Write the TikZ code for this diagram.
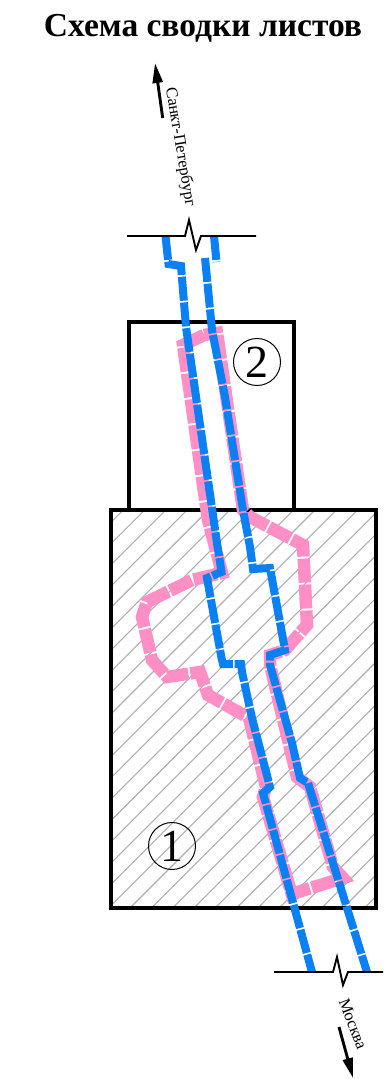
\documentclass[tikz,border=0pt]{standalone}
\usepackage{fontspec}
\setmainfont{Liberation Serif}
\usetikzlibrary{arrows.meta}
\definecolor{roadblue}{HTML}{0A80F5}
\definecolor{roadpink}{HTML}{FF8FC4}
\definecolor{hatchgray}{HTML}{AEAEAE}
\tikzset{
  sheet/.style={draw=black,line width=3.8pt},
  hatchline/.style={draw=hatchgray,line width=1.1pt},
  pinkroute/.style={draw=roadpink,line width=12.5pt,dash pattern=on 24pt off 2pt},
  blueroute/.style={draw=roadblue,line width=8pt,dash pattern=on 24pt off 1.8pt},
  breakline/.style={draw=black,line width=1.9pt},
  dirarrow/.style={draw=black,line width=2.9pt,-{Triangle[length=20pt,width=10pt]}},
  sheetnum/.style={circle,draw=black,line width=1pt,minimum size=47pt,inner sep=0pt,font=\fontsize{46}{46}\selectfont},
  citylabel/.style={font=\fontsize{16.5}{17}\selectfont,inner sep=0pt},
  titletext/.style={font=\bfseries\fontsize{33.5}{35}\selectfont,inner sep=0pt}
}
\begin{document}
\begin{tikzpicture}[x=1pt,y=-1pt]
\useasboundingbox (0,0) rectangle (383,1079);
% hatching of sheet 1
\begin{scope}
\clip (111,510) rectangle (376,908);
\foreach \k in {-22,...,32} {
  \draw[hatchline] (93.7+21.3*\k,923) -- ++(450,-450);
}
\end{scope}
\coordinate (s2a) at (129,510); \coordinate (s2b) at (294,322);
\coordinate (s1a) at (111,510); \coordinate (s1b) at (376,908);
\draw[sheet] (s2a) rectangle (s2b);
\draw[sheet] (s1a) rectangle (s1b);
% pink route
\draw[pinkroute] (204,335) -- (183,345) -- (208,520) -- (222,573) -- (192,580)
  -- (147,602) -- (142,617) -- (152,660) -- (167,677) -- (200,672) -- (208,695)
  -- (249,718) -- (266,787) -- (263,797) -- (292,895) -- (298,892) -- (343,878) -- (333,867)
  -- (310,787) -- (297,777) -- (270,665) -- (270,655) -- (285,650) -- (307,625)
  -- (303,545) -- (250,517) -- (243,510) -- (225,388) -- (217,333) -- cycle;
% blue routes
\draw[blueroute] (165.5,236) -- (168.5,264) -- (181,266) -- (186,327) -- (217,543)
  -- (221.5,572) -- (207,578) -- (221.5,658) -- (223,664) -- (241,664) -- (242,672)
  -- (252,718) -- (270,787) -- (263,793) -- (312,972);
\draw[blueroute] (214,236) -- (216.5,262);
\draw[blueroute] (205,258) -- (212,330) -- (225,397) -- (243,510) -- (250,547)
  -- (253,569) -- (270,568) -- (285,650) -- (270,655) -- (270,665) -- (292,743)
  -- (300,778) -- (308,783) -- (367,972);
% breaks
\draw[breakline] (127,236) -- (185,236) -- (189,220) -- (196,250) -- (201,236) -- (256,236);
\draw[breakline] (274,972) -- (333,972) -- (337,957) -- (343,985) -- (348,972) -- (383,972);
% sheet numbers
\node[sheetnum] (n2) at (257,362) {2};
\node[sheetnum] (n1) at (172,846) {1};
% directions
\coordinate (a1s) at (162.7,118); \coordinate (a1e) at (155,63);
\coordinate (a2s) at (339,1027); \coordinate (a2e) at (353,1078);
\draw[dirarrow] (a1s) -- (a1e);
\draw[dirarrow] (a2s) -- (a2e);
\node[citylabel,rotate=-80.5] (spb) at (180,147) {Санкт-Петербург};
\node[citylabel,rotate=-69] (msk) at (353,1024) {Москва};
\node[titletext] (title) at (203,28.5) {Схема сводки листов};
\end{tikzpicture}
\end{document}
